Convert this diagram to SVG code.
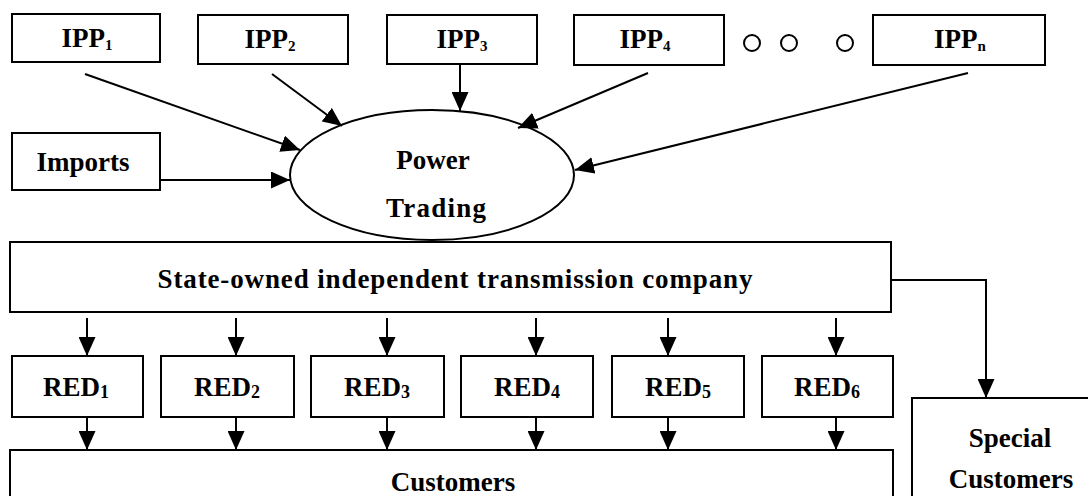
<svg xmlns="http://www.w3.org/2000/svg" width="1088" height="496" viewBox="0 0 1088 496">
<style>
.box{fill:#fff;stroke:#000;stroke-width:2}
.t{font-family:"Liberation Serif","Times New Roman",serif;font-weight:bold;font-size:27px;fill:#000;text-anchor:middle}
.sub{font-size:15px}
.rsub{font-size:18px}
.ln{stroke:#000;stroke-width:2;fill:none}
.dot{fill:none;stroke:#000;stroke-width:2}
</style>
<defs>
<marker id="ah" markerUnits="userSpaceOnUse" markerWidth="19" markerHeight="17" refX="19" refY="8.5" orient="auto">
<path d="M0,0 L19,8.5 L0,17 z" fill="#000"/>
</marker>
</defs>
<rect width="1088" height="496" fill="#fff"/>

<g id="ipp1"><rect class="box" x="12" y="14" width="148" height="48"/><text class="t" x="87" y="47">IPP<tspan class="sub" dy="3">1</tspan></text></g>
<g id="ipp2"><rect class="box" x="198" y="15" width="150" height="49"/><text class="t" x="270" y="48">IPP<tspan class="sub" dy="3">2</tspan></text></g>
<g id="ipp3"><rect class="box" x="387" y="15" width="150" height="49"/><text class="t" x="462" y="48">IPP<tspan class="sub" dy="3">3</tspan></text></g>
<g id="ipp4"><rect class="box" x="574" y="15" width="150" height="50"/><text class="t" x="645" y="48">IPP<tspan class="sub" dy="3">4</tspan></text></g>
<g id="dots"><circle class="dot" cx="752" cy="43" r="8"/><circle class="dot" cx="789" cy="43" r="8"/><circle class="dot" cx="845" cy="43" r="8"/></g>
<g id="ippn"><rect class="box" x="873" y="15" width="172" height="50"/><text class="t" x="960" y="48">IPP<tspan class="sub" dy="3">n</tspan></text></g>

<g id="imports"><rect class="box" x="12" y="133" width="148" height="57"/><text class="t" x="83" y="171">Imports</text></g>

<g id="trading"><ellipse class="box" cx="432" cy="175" rx="142" ry="65"/><text class="t" x="433" y="169">Power</text><text class="t" x="436" y="217" font-size="28" textLength="100" lengthAdjust="spacing">Trading</text></g>

<g id="transmission"><rect class="box" x="10" y="242" width="881" height="70"/><text class="t" x="455" y="288" font-size="30" textLength="595" lengthAdjust="spacing">State-owned independent transmission company</text></g>

<g id="red1"><rect class="box" x="12" y="356" width="131" height="61"/><text class="t" x="76" y="396">RED<tspan class="rsub" dy="2">1</tspan></text></g>
<g id="red2"><rect class="box" x="161" y="356" width="133" height="61"/><text class="t" x="227" y="396">RED<tspan class="rsub" dy="2">2</tspan></text></g>
<g id="red3"><rect class="box" x="311" y="356" width="133" height="61"/><text class="t" x="377" y="396">RED<tspan class="rsub" dy="2">3</tspan></text></g>
<g id="red4"><rect class="box" x="461" y="356" width="132" height="61"/><text class="t" x="527" y="396">RED<tspan class="rsub" dy="2">4</tspan></text></g>
<g id="red5"><rect class="box" x="612" y="356" width="132" height="61"/><text class="t" x="678" y="396">RED<tspan class="rsub" dy="2">5</tspan></text></g>
<g id="red6"><rect class="box" x="762" y="356" width="131" height="61"/><text class="t" x="827" y="396">RED<tspan class="rsub" dy="2">6</tspan></text></g>

<g id="customers"><rect class="box" x="10" y="450" width="883" height="60"/><text class="t" x="453" y="491" font-size="24">Customers</text></g>
<g id="special"><rect class="box" x="912" y="398" width="190" height="110"/><text class="t" x="1010" y="447" font-size="28">Special</text><text class="t" x="1011" y="488" font-size="28">Customers</text></g>

<g id="connectors">
<line class="ln" x1="85" y1="74" x2="300" y2="150" marker-end="url(#ah)"/>
<line class="ln" x1="272" y1="74" x2="342" y2="126" marker-end="url(#ah)"/>
<line class="ln" x1="460" y1="64" x2="460" y2="111" marker-end="url(#ah)"/>
<line class="ln" x1="648" y1="73" x2="518" y2="128" marker-end="url(#ah)"/>
<line class="ln" x1="968" y1="73" x2="575" y2="170" marker-end="url(#ah)"/>
<line class="ln" x1="160" y1="180" x2="290" y2="180" marker-end="url(#ah)"/>

<line class="ln" x1="87" y1="318" x2="87" y2="356" marker-end="url(#ah)"/>
<line class="ln" x1="236" y1="318" x2="236" y2="356" marker-end="url(#ah)"/>
<line class="ln" x1="387" y1="318" x2="387" y2="356" marker-end="url(#ah)"/>
<line class="ln" x1="536" y1="318" x2="536" y2="356" marker-end="url(#ah)"/>
<line class="ln" x1="668" y1="318" x2="668" y2="356" marker-end="url(#ah)"/>
<line class="ln" x1="836" y1="318" x2="836" y2="356" marker-end="url(#ah)"/>

<line class="ln" x1="87" y1="417" x2="87" y2="450" marker-end="url(#ah)"/>
<line class="ln" x1="236" y1="417" x2="236" y2="450" marker-end="url(#ah)"/>
<line class="ln" x1="387" y1="417" x2="387" y2="450" marker-end="url(#ah)"/>
<line class="ln" x1="536" y1="417" x2="536" y2="450" marker-end="url(#ah)"/>
<line class="ln" x1="668" y1="417" x2="668" y2="450" marker-end="url(#ah)"/>
<line class="ln" x1="836" y1="417" x2="836" y2="450" marker-end="url(#ah)"/>

<polyline class="ln" points="891,280 986,280 986,398" marker-end="url(#ah)"/>
</g>
</svg>
